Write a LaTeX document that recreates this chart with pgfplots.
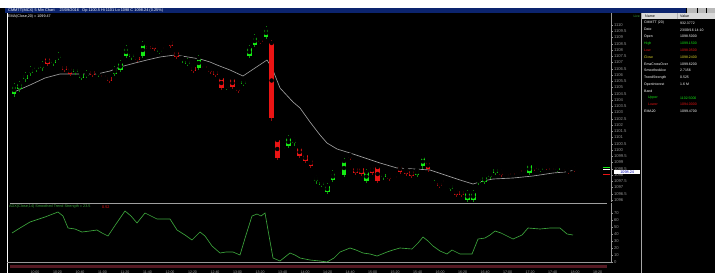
\documentclass[border=0pt]{standalone}
\usepackage{fontspec}
\setmainfont{Liberation Sans}
\usepackage{pgfplots}
\usepackage{pgfplotstable}
\pgfplotsset{compat=1.18}
\definecolor{cg}{RGB}{20,235,20}
\definecolor{cr}{RGB}{235,20,20}
\definecolor{crd}{RGB}{110,10,10}
\definecolor{titleblue}{RGB}{12,36,110}
\definecolor{indg}{RGB}{60,165,60}
\definecolor{maroon}{RGB}{85,25,35}
\definecolor{cy}{RGB}{230,220,40}

\pgfplotstableread{
x bt bb wt wb
14 86 94 83 97
19.6 84 89 81 92
25.2 75 79 72 82
30.8 69 73 66 76
36.4 67 69 65 72
42 64 68 61 71
53.2 60 63 58 66
58.8 55 58 52 60
75.6 69 72 67 75
81.2 74 78 72 80
86.8 73 76 70 78
98 72 75 70 77
114.8 69 74 66 76
120.4 63 70 60 72
126 48 56 45 58
131.6 54 57 52 60
142.8 44 56 41 58
159.6 50 52 48 54
182 58 60 56 63
187.6 61 64 58 66
198.8 58 68 55 70
226.8 86 88 84 90
243.6 81 84 79 86
249.2 48 56 45 58
254.8 37 45 34 47
266 29 37 26 39
288.4 138 146 135 148
294 139 143 137 146
316 177 181 175 184
321.6 182 185 180 187
327.2 186 192 183 194
332.8 173 180 170 182
344 161 175 158 177
366.4 172 181 169 183
383.2 174 177 172 180
417 170 175 168 177
422.8 157 166 155 169
434 177 179 175 181
450.8 185 189 183 191
467.6 193 200 190 202
473.2 193 200 190 202
478.8 179 183 177 185
484.4 177 182 175 184
490 173 177 171 179
495.6 169 173 167 175
529.2 165 173 163 175
540.4 168 170 166 172
557.2 168 170 166 172
}\upc

\pgfplotstableread{
x bt bb wt wb
47.6 58 64 56 66
64.4 66 70 64 72
70 68 74 66 76
92.4 71 75 69 77
109.2 77 81 75 83
137.2 57 60 55 62
154 44 49 42 51
170.8 41 46 39 48
176.4 52 57 50 59
193.2 67 71 65 73
210 68 72 66 74
215.6 71 75 69 77
221.2 78 88 76 90
232.4 79 87 77 89
238 87 91 85 93
260.4 40 42 38 44
271.6 43 118 40 121
277.2 140 158 138 160
299.6 148 156 146 158
305.2 155 161 153 163
310.8 160 166 158 168
350 155 158 153 160
355.6 168 173 166 175
361.2 168 174 166 176
372 167 173 165 175
377.6 167 181 165 183
389 175 179 173 181
400 166 172 164 174
406 169 174 167 176
411.6 171 176 169 178
428 162 169 160 172
439.6 183 186 181 188
456 190 195 188 197
461.6 191 195 189 197
501 171 175 169 177
534.8 166 169 164 171
546 166 168 164 170
568 170 172 168 174
574 168 170 166 172
}\downc

\pgfplotstableread{
x bt bb
103.6 75 77
148.4 46 49
165.2 47 49
204.4 66 68
282.8 147 149
338.8 172 174
394.8 176 178
445.2 180 182
506.8 174 176
512.4 173 175
518 172 174
523.6 170 172
551.6 168 170
562.8 169 171
}\dimc

\begin{document}
\begin{tikzpicture}[x=1bp,y=1bp]
% background and frame
\fill[black] (0,0) rectangle (715,273);
\fill[white] (0,265) rectangle (715,273);
\fill[titleblue] (5,260) rectangle (686,265);
\fill[gray!55] (687,260) rectangle (697,265);
\fill[gray!55] (698,260) rectangle (706,265);
\fill[gray!55] (707,260) rectangle (715,265);
\node[anchor=west, text=white, font=\fontsize{3.9}{4}\selectfont, inner sep=0pt] at (8,262.5)
  {CMMTT(MCX) 5 Min Chart \quad 23/09/2016 \; Op 1100.5 Hi 1101 Lo 1098 C 1098.24 (0.25\%)};
\node[anchor=west, text=white, font=\fontsize{3.7}{4}\selectfont, inner sep=0pt] at (8,256.8)
  {EMA(Close,20) = 1099.47};
\draw[white, line width=0.8bp] (7,0) -- (7,260);
\draw[gray!70, line width=0.7bp] (641.5,0) -- (641.5,260);
\node[anchor=east, text=indg, font=\fontsize{3.4}{4}\selectfont, inner sep=0pt] at (640,257) {Live};

% main price panel
\begin{axis}[at={(7bp,71bp)}, anchor=south west, scale only axis,
  width=604bp, height=189bp,
  xmin=7, xmax=611, ymin=13, ymax=202, y dir=reverse,
  axis x line=none, axis y line*=right,
  axis line style={draw=gray!80, line width=0.6bp},
  ytick={25,31.25,...,200},
  yticklabels={1110,1109.5,1109,1108.5,1108,1107.5,1107,1106.5,1106,1105.5,1105,1104.5,1104,1103.5,1103,1102.5,1102,1101.5,1101,1100.5,1100,1099.5,1099,1098.5,1098,1097.5,1097,1096.5,1096},
  ytick style={draw=gray!80, line width=0.4bp}, major tick length=2bp, tick align=outside,
  y tick label style={font=\fontsize{4.2}{4.5}\selectfont, text=gray!85, inner sep=0.8bp},
  clip=true]
% moving average
\addplot[gray!75!white, line width=0.65bp] coordinates {
(14,92) (30,85) (45,78) (60,74) (80,74) (97,74) (110,71) (120,67) (135,63) (147,60)
(160,57) (175,55) (188,57) (200,59) (210,62) (217,65) (230,70) (243,76) (255,68) (267,60)
(272,68) (280,88) (293,102) (300,108) (310,122) (320,135) (327,143) (337,149) (350,153)
(365,158) (380,163) (397,168) (415,169) (430,170) (445,175) (460,180) (473,184) (483,181)
(493,179) (513,178) (533,176) (553,173) (565,172) (575,170)};
% dim candles
\addplot[only marks, mark=none, forget plot, error bars/.cd, y dir=both, y explicit, error mark=none,
  error bar style={draw=crd, line width=4.4bp}]
  table[x=x, y expr=(\thisrow{bt}+\thisrow{bb})/2, y error expr=(\thisrow{bb}-\thisrow{bt})/2] {\dimc};
% wicks
\addplot[only marks, mark=none, forget plot, error bars/.cd, y dir=both, y explicit, error mark=none,
  error bar style={draw=cg!60!black, line width=0.7bp}]
  table[x=x, y=bt, y error plus expr=\thisrow{wb}-\thisrow{bt}, y error minus expr=\thisrow{bt}-\thisrow{wt}] {\upc};
\addplot[only marks, mark=none, forget plot, error bars/.cd, y dir=both, y explicit, error mark=none,
  error bar style={draw=cr!60!black, line width=0.7bp}]
  table[x=x, y=bt, y error plus expr=\thisrow{wb}-\thisrow{bt}, y error minus expr=\thisrow{bt}-\thisrow{wt}] {\downc};
% bodies
\addplot[only marks, mark=none, forget plot, error bars/.cd, y dir=both, y explicit, error mark=none,
  error bar style={draw=cg, line width=4.6bp}]
  table[x=x, y expr=(\thisrow{bt}+\thisrow{bb})/2, y error expr=(\thisrow{bb}-\thisrow{bt})/2] {\upc};
\addplot[only marks, mark=none, forget plot, error bars/.cd, y dir=both, y explicit, error mark=none,
  error bar style={draw=cr, line width=4.6bp}]
  table[x=x, y expr=(\thisrow{bt}+\thisrow{bb})/2, y error expr=(\thisrow{bb}-\thisrow{bt})/2] {\downc};
\end{axis}

% indicator panel
\begin{axis}[at={(7bp,11bp)}, anchor=south west, scale only axis,
  width=604bp, height=59bp,
  xmin=7, xmax=611, ymin=203, ymax=262, y dir=reverse,
  axis x line*=bottom, axis y line*=right,
  axis line style={draw=gray!80, line width=0.6bp},
  ytick={213,220,227,234,241,248,255,262},
  yticklabels={70,60,50,40,30,20,10,0},
  ytick style={draw=gray!80, line width=0.4bp}, major tick length=2bp, tick align=outside,
  y tick label style={font=\fontsize{4.2}{4.5}\selectfont, text=gray!85, inner sep=0.8bp},
  xtick={35,57.5,...,598},
  xticklabels={10:00,10:20,10:40,11:00,11:20,11:40,12:00,12:20,12:40,13:00,13:20,13:40,14:00,14:20,14:40,15:00,15:20,15:40,16:00,16:20,16:40,17:00,17:20,17:40,18:00,18:20},
  x tick style={draw=none},
  x tick label style={font=\fontsize{3.6}{4}\selectfont, text=gray!70, anchor=north, inner sep=0pt, yshift=-6.6bp},
  clip=true]
\addplot[indg, line width=0.65bp] coordinates {
(12,233) (20,228) (30,222) (45,217) (58,212) (63,216) (68,228) (75,229) (82,232) (90,231)
(97,230) (102,233) (108,236) (116,224) (125,211) (131,216) (137,223) (145,213) (151,216)
(157,219) (170,219) (177,230) (185,235) (192,240) (200,232) (205,236) (212,246) (220,253)
(226,252) (233,252) (240,255) (246,235) (252,216) (257,214) (261,216) (265,213) (268,230)
(273,258) (280,261) (285,257) (290,253) (295,255) (300,258) (310,260) (320,261) (327,262)
(334,258) (340,252) (350,248) (356,250) (363,253) (370,254) (377,256) (382,254) (387,252)
(393,250) (400,248) (412,249) (418,243) (423,237) (428,241) (433,246) (440,251) (447,254)
(452,250) (460,254) (472,254) (478,239) (485,238) (490,235) (495,231) (501,233) (507,236)
(513,239) (522,235) (528,228) (540,229) (550,228) (560,228) (567,234) (573,235)};
\end{axis}

\draw[gray!75, line width=0.6bp] (10,70) -- (607,70);
\fill[maroon] (10,5.5) rectangle (607,8.5);
\node[anchor=west, text=indg, font=\fontsize{3.8}{4}\selectfont, inner sep=0pt] at (9,66)
  {ADX(Close,14) Smoothed Trend Strength = 23.5};
\node[anchor=west, text=cr, font=\fontsize{3.8}{4}\selectfont, inner sep=0pt] at (102,66) {0.52};

% last price marker
\draw[cg, line width=0.7bp] (603,106) -- (610,106);
\draw[white, line width=0.5bp] (603,103.5) -- (610,103.5);
\draw[cr, line width=0.5bp] (603,98.5) -- (610,98.5);
\node[fill=white, text=blue!70!black, anchor=west, font=\fontsize{3.8}{4}\selectfont, inner sep=0.8bp,
  minimum width=26bp] at (614,101) {1098.24};

% data window
\fill[gray!30] (642,253.5) rectangle (715,260);
\draw[gray!60, line width=0.4bp] (677,253.5) -- (677,260);
\node[anchor=west, text=black, font=\fontsize{3.6}{4}\selectfont, inner sep=0pt] at (645,256.7) {Name};
\node[anchor=west, text=black, font=\fontsize{3.6}{4}\selectfont, inner sep=0pt] at (680,256.7) {Value};
\begin{scope}[every node/.style={anchor=west, font=\fontsize{3.5}{4}\selectfont, inner sep=0pt}]
\node[text=white] at (644,250) {CMMTT (20)};      \node[text=white] at (680,250) {932.3772};
\node[text=white] at (644,243.2) {Date};          \node[text=white] at (680,243.2) {23/09/16 14:10};
\node[text=white] at (644,236.4) {Open};          \node[text=white] at (680,236.4) {1098.5000};
\node[text=cg] at (644,229.6) {High};             \node[text=cg] at (680,229.6) {1099.1500};
\node[text=cr] at (644,222.8) {Low};              \node[text=cr] at (680,222.8) {1098.0500};
\node[text=cy] at (644,216) {Close};              \node[text=cy] at (680,216) {1098.2400};
\node[text=white] at (644,209.2) {EmaCrossOver};  \node[text=white] at (680,209.2) {1099.6200};
\node[text=white] at (644,202.4) {SmoothedAve};   \node[text=white] at (680,202.4) {2.7156};
\node[text=white] at (644,195.6) {TrendStrength}; \node[text=white] at (680,195.6) {0.525};
\node[text=white] at (644,188.8) {OpenInterest};  \node[text=white] at (680,188.8) {1.6 M};
\node[text=white] at (644,182) {Band};
\node[text=cg] at (648,175.2) {Upper};            \node[text=cg] at (680,175.2) {1102.5000};
\node[text=cr] at (648,168.4) {Lower};            \node[text=cr] at (680,168.4) {1094.0000};
\node[text=white] at (644,161.6) {EMA20};         \node[text=white] at (680,161.6) {1099.4700};
\end{scope}

\pgfresetboundingbox
\useasboundingbox (0,0) rectangle (715,273);
\end{tikzpicture}
\end{document}
